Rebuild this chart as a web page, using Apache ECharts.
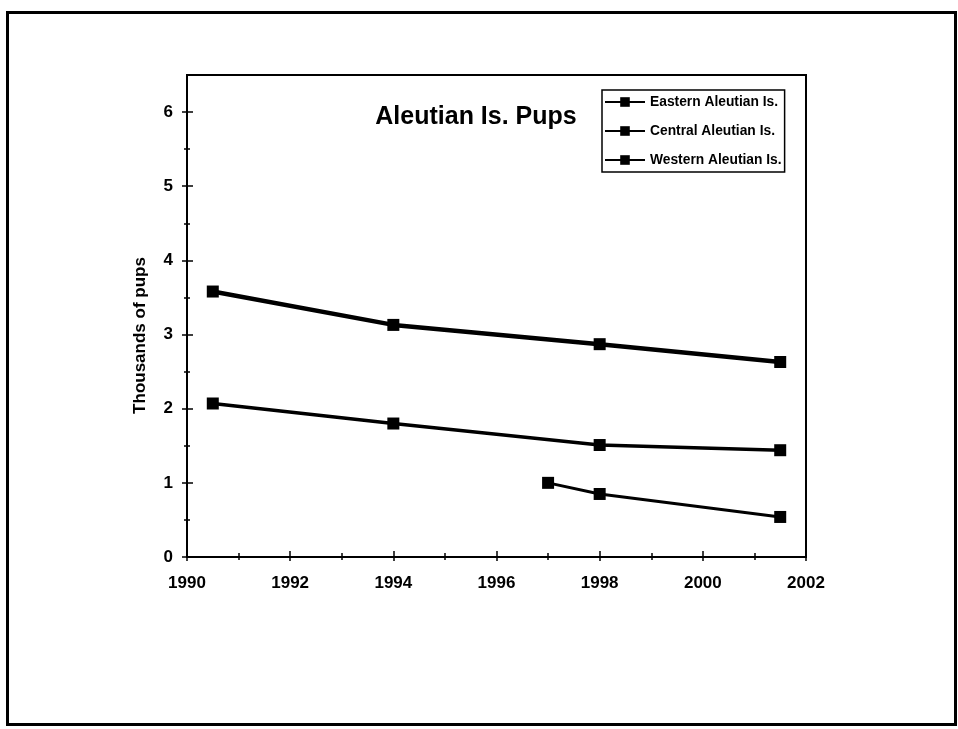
<!DOCTYPE html>
<html>
<head>
<meta charset="utf-8">
<script src="https://cdn.jsdelivr.net/npm/echarts@6/dist/echarts.min.js"></script>
<style>
html,body{margin:0;padding:0;background:#fff;}
#c{width:958px;height:729px;}
</style>
</head>
<body>
<div id="c"></div>
<script>
// ---- data ----
const titleText = 'Aleutian Is. Pups';
const yAxisName = 'Thousands of pups';
const seriesNames = ['Eastern Aleutian Is.', 'Central Aleutian Is.', 'Western Aleutian Is.'];
const yearsEC = [1990.5, 1994, 1998, 2001.5];
const eastern = [3.58, 3.13, 2.87, 2.63];
const central = [2.07, 1.80, 1.51, 1.44];
const yearsW = [1997, 1998, 2001.5];
const western = [1.00, 0.85, 0.54];
const xMin = 1990, xMax = 2002, xStep = 2;
const yMin = 0, yMax = 6.5;
const yMajorTicks = [0, 1, 2, 3, 4, 5, 6];
const yMinorTicks = [0.5, 1.5, 2.5, 3.5, 4.5, 5.5];

const FONT = 'Liberation Sans, Arial, sans-serif';
const pair = (xs, ys) => xs.map((x, i) => [x, ys[i]]);

const chart = echarts.init(document.getElementById('c'), null, {renderer: 'canvas'});
const grid = {left: 187, right: 152, top: 75, bottom: 172, show: true, borderColor: '#000', borderWidth: 2, backgroundColor: 'transparent'};

const xBase = {
  type: 'value', min: xMin, max: xMax, interval: xStep, position: 'bottom',
  splitLine: {show: false}
};
const yBase = {
  type: 'value', min: yMin, max: yMax, position: 'left',
  splitLine: {show: false}
};
const tickLS = {color: '#000', width: 1.5};

function yTickAxis(values, inside, len) {
  return Object.assign({}, yBase, {
    axisLine: {show: false},
    axisTick: {show: true, inside: inside, length: len, customValues: values, lineStyle: tickLS},
    axisLabel: {show: false}
  });
}

function mkSeries(name, data, width) {
  return {
    name: name, type: 'line', data: data,
    symbol: 'rect', symbolSize: 12,
    lineStyle: {color: '#000', width: width},
    itemStyle: {color: '#000'},
    emphasis: {disabled: true},
    animation: false
  };
}

const option = {
  backgroundColor: '#fff',
  animation: false,
  title: {
    text: titleText, left: 471, top: 100, textAlign: 'center',
    textStyle: {fontFamily: FONT, fontSize: 25, fontWeight: 'bold', color: '#000'}
  },
  legend: {
    orient: 'vertical', left: 602, top: 90,
    itemWidth: 40, itemHeight: 12, itemGap: 15,
    padding: [5, 3, 5, 2],
    borderColor: '#000', borderWidth: 1.5,
    textStyle: {fontFamily: FONT, fontSize: 13.8, fontWeight: 'bold', color: '#000'},
    data: seriesNames
  },
  grid: grid,
  xAxis: [
    Object.assign({}, xBase, {
      axisLine: {show: true, lineStyle: {color: '#000', width: 2}},
      axisTick: {show: true, inside: false, length: 4, lineStyle: tickLS},
      minorTick: {show: true, splitNumber: 2, length: 3, lineStyle: tickLS},
      axisLabel: {show: true, margin: 18, fontFamily: FONT, fontSize: 17, fontWeight: 'bold', color: '#000',
        formatter: v => String(v)}
    }),
    Object.assign({}, xBase, {
      axisLine: {show: false},
      axisTick: {show: true, inside: true, length: 6, lineStyle: tickLS},
      minorTick: {show: true, splitNumber: 2, length: 4, lineStyle: tickLS},
      axisLabel: {show: false}
    })
  ],
  yAxis: [
    Object.assign({}, yBase, {
      name: yAxisName, nameLocation: 'middle', nameGap: 38, nameRotate: 90,
      nameTextStyle: {fontFamily: FONT, fontSize: 17, fontWeight: 'bold', color: '#000', padding: [0, 39, 0, 0]},
      axisLine: {show: true, lineStyle: {color: '#000', width: 2}},
      axisTick: {show: true, inside: false, length: 5, customValues: yMajorTicks, lineStyle: tickLS},
      axisLabel: {show: true, margin: 14, customValues: yMajorTicks, fontFamily: FONT, fontSize: 17, fontWeight: 'bold', color: '#000'}
    }),
    yTickAxis(yMajorTicks, true, 6),
    yTickAxis(yMinorTicks, false, 3),
    yTickAxis(yMinorTicks, true, 3)
  ],
  series: [
    mkSeries(seriesNames[0], pair(yearsEC, eastern), 4.5),
    mkSeries(seriesNames[1], pair(yearsEC, central), 3.5),
    mkSeries(seriesNames[2], pair(yearsW, western), 3)
  ],
  graphic: [{
    type: 'rect', left: 5, top: 10, z: 100, silent: true,
    shape: {width: 948, height: 712},
    style: {fill: 'none', stroke: '#000', lineWidth: 3}
  }]
};
chart.setOption(option);
</script>
</body>
</html>
